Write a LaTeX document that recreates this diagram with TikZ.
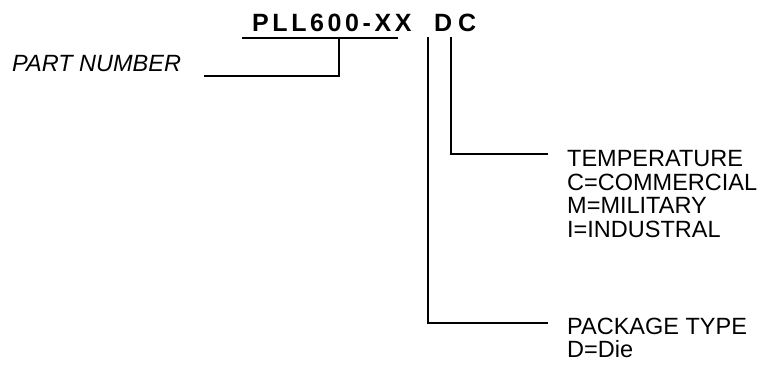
\documentclass[tikz,border=0pt]{standalone}
\usepackage{fontspec}
\setmainfont{Liberation Sans}
\newcommand{\trk}{\kern3.6pt}
\begin{document}
\begin{tikzpicture}[x=1pt,y=-1pt,
  lbl/.style={anchor=base west,inner sep=0pt,font=\fontsize{23.5}{23.5}\selectfont},
  big/.style={anchor=base west,inner sep=0pt,font=\fontsize{25}{25}\selectfont\bfseries},
  conn/.style={line width=1.3pt,line cap=rect}]
\useasboundingbox (0,0) rectangle (758,371);
\node[big] (pn) at (252,32) {P\trk L\trk L\trk 6\trk 0\trk 0\trk -\trk X\trk X};
\node[big] (d) at (434,32) {D};
\node[big] (c) at (458,32) {C};
\node[lbl,font=\fontsize{23.5}{23.5}\selectfont\itshape] (part) at (12,72) {PART NUMBER};
\node[lbl,align=left,font=\fontsize{23.5}{23.5}\selectfont] (temp) at (567,237.5) {TEMPERATURE\\C=COMMERCIAL\\M=MILITARY\\I=INDUSTRAL};
\node[lbl,align=left,font=\fontsize{23.5}{23}\selectfont] (pkg) at (567,358) {PACKAGE TYPE\\D=Die};
\coordinate (ul) at (243,38);
\coordinate (ur) at (397,38);
\coordinate (um) at (339,38);
\coordinate (pe) at (205,76);
\coordinate (dt) at (428,38);
\coordinate (ct) at (451,38);
\coordinate (de) at (547,323);
\coordinate (ce) at (547,154);
\draw[conn] (ul) -- (ur);
\draw[conn] (um) |- (pe);
\draw[conn] (dt) |- (de);
\draw[conn] (ct) |- (ce);
\end{tikzpicture}
\end{document}
